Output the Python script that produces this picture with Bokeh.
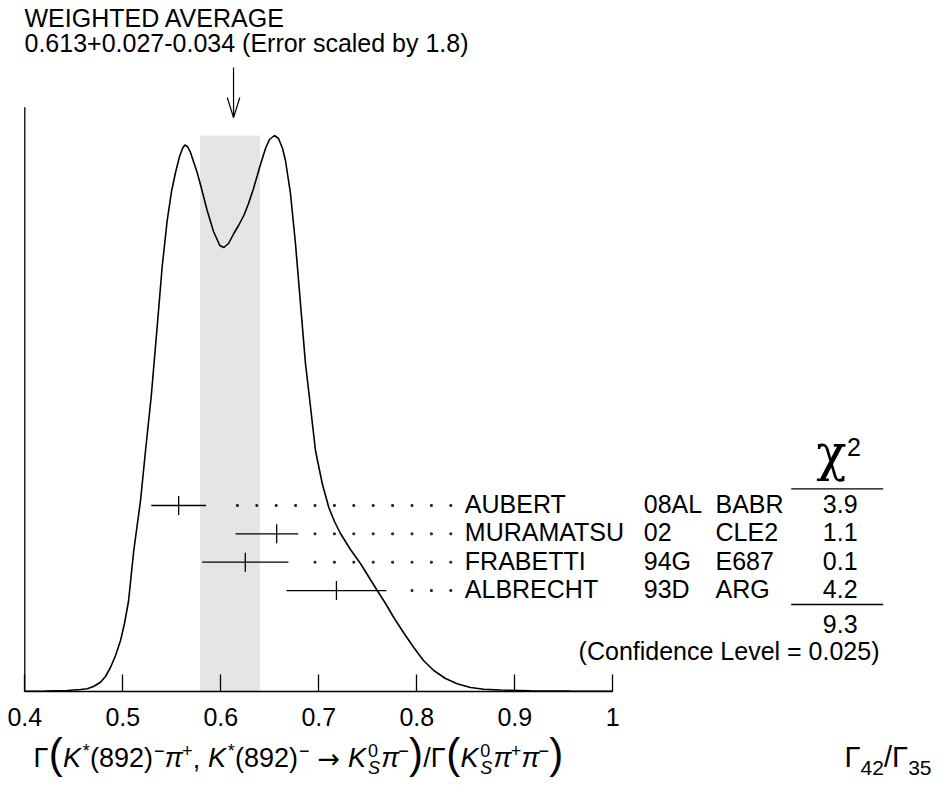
from bokeh.plotting import figure
from bokeh.models import Range1d, LinearAxis, FixedTicker, ColumnDataSource
from bokeh.core.properties import value
from bokeh.embed import file_html
from bokeh.resources import INLINE

# ---------------- data ----------------
names = ["AUBERT", "MURAMATSU", "FRABETTI", "ALBRECHT"]
years = ["08AL", "02", "94G", "93D"]
experiments = ["BABR", "CLE2", "E687", "ARG"]
values = [0.557, 0.657, 0.625, 0.718]
err_lo = [0.028, 0.042, 0.044, 0.051]
err_hi = [0.028, 0.022, 0.044, 0.051]
chi2 = [3.9, 1.1, 0.1, 4.2]
chi2_total = 9.3
confidence_level = 0.025
avg_value = 0.613
avg_err_hi = 0.027
avg_err_lo = 0.034
error_scale = 1.8
tick_values = [0.4, 0.5, 0.6, 0.7, 0.8, 0.9, 1.0]
tick_labels = ["0.4", "0.5", "0.6", "0.7", "0.8", "0.9", "1"]

ideogram_x = [0.4000, 0.4211, 0.4433, 0.4568, 0.4637, 0.4701, 0.4772, 0.4823, 0.4874, 0.4926,
              0.4977, 0.5017, 0.5058, 0.5112, 0.5181, 0.5232, 0.5290, 0.5351, 0.5402, 0.5453,
              0.5497, 0.5538, 0.5579, 0.5609, 0.5633, 0.5660, 0.5691, 0.5721, 0.5759, 0.5803,
              0.5861, 0.5926, 0.5990, 0.6031, 0.6079, 0.6133, 0.6181, 0.6235, 0.6283, 0.6334,
              0.6405, 0.6456, 0.6497, 0.6548, 0.6589, 0.6630, 0.6660, 0.6711, 0.6762, 0.6813,
              0.6864, 0.6908, 0.6966, 0.7035, 0.7102, 0.7160, 0.7221, 0.7323, 0.7425, 0.7507,
              0.7596, 0.7681, 0.7765, 0.7864, 0.7969, 0.8068, 0.8173, 0.8293, 0.8412, 0.8548,
              0.8684, 0.8854, 0.9160, 0.9568, 1.0000]
ideogram_y = [0.3, 0.5, 1.0, 2.0, 2.7, 5.0, 9.3, 15, 24, 36,
              51, 68, 90, 141, 191, 241, 295, 365, 425, 471,
              500, 519, 535, 543, 546.5, 545, 539, 530, 519, 503,
              481, 460, 446, 444, 448, 458, 466, 476, 488, 503,
              527, 543, 552, 556, 553, 543, 531, 498, 448, 388,
              328, 291, 241, 208, 184, 170, 158, 142, 128, 115,
              101, 88, 74, 59, 44, 31, 21, 13, 7.7, 4,
              2.3, 1.5, 0.8, 0.4, 0.2]

# ---------------- layout ----------------
FONT = "Liberation Sans"
W_FIG, H_FIG = 935, 780
PX_PER_UNIT = 980.0
REF_X_04 = 24.3       # pixel of x = 0.4
REF_AXIS_Y = 691.0    # pixel of the x axis line
FS = 25               # main font size (px)
SHIFT_EM = 0.42       # empirical correction of the text baseline


def xr(px):
    return 0.4 + (px - REF_X_04) / PX_PER_UNIT


def yr(py):
    return REF_AXIS_Y - py


def ty(baseline_px, size):
    return yr(baseline_px) + SHIFT_EM * size


def tc(center_px, size):
    # y for a text whose capitals should be centred at center_px
    return ty(center_px + 0.358 * size, size)


p = figure(width=W_FIG, height=H_FIG,
           x_range=Range1d(xr(0), xr(W_FIG)),
           y_range=Range1d(yr(H_FIG), yr(0)),
           x_axis_type=None, y_axis_type=None,
           toolbar_location=None, output_backend="svg",
           min_border_left=0, min_border_right=0, min_border_top=0, min_border_bottom=0)
p.outline_line_color = None
p.background_fill_color = "white"
p.border_fill_color = "white"

# x axis fixed at y = 0
xaxis = LinearAxis(ticker=FixedTicker(ticks=tick_values, minor_ticks=[]),
                   bounds=(tick_values[0], tick_values[-1]), fixed_location=0)
xaxis.major_label_overrides = {t: l for t, l in zip(tick_values, tick_labels)}
xaxis.major_tick_in = 17
xaxis.major_tick_out = 0
xaxis.minor_tick_line_color = None
xaxis.axis_line_color = "black"
xaxis.axis_line_width = 1.3
xaxis.major_tick_line_color = "black"
xaxis.major_tick_line_width = 1.3
xaxis.major_label_text_font = FONT
xaxis.major_label_text_font_size = f"{FS}px"
xaxis.major_label_text_color = "black"
xaxis.major_label_standoff = 16
p.add_layout(xaxis, "below")

# left vertical line
AXIS_TOP = yr(106.7)
p.segment(x0=[tick_values[0]], y0=[0], x1=[tick_values[0]], y1=[AXIS_TOP],
          line_color="black", line_width=1.3)

# shaded band of the weighted average
p.quad(left=[avg_value - avg_err_lo], right=[avg_value + avg_err_hi],
       bottom=[0], top=[max(ideogram_y)], fill_color="#e5e5e5", line_color=None)

# ideogram
p.line(ideogram_x, ideogram_y, line_color="black", line_width=1.6)

# arrow at weighted average
tip_y = yr(117)
p.segment(x0=[avg_value], y0=[yr(67)], x1=[avg_value], y1=[tip_y], line_color="black", line_width=1.2)
head_dx = 6.3 / PX_PER_UNIT
p.segment(x0=[avg_value, avg_value], y0=[tip_y, tip_y],
          x1=[avg_value - head_dx, avg_value + head_dx], y1=[tip_y + 20, tip_y + 20],
          line_color="black", line_width=1.2)

text_kw = dict(text_font=value(FONT), text_font_size=f"{FS}px", text_color="black",
               text_baseline="alphabetic")

# header
p.text(x=[xr(24), xr(24)], y=[tc(19, FS), tc(44, FS)],
       text=["WEIGHTED AVERAGE",
             f"{avg_value}+{avg_err_hi}-{avg_err_lo} (Error scaled by {error_scale})"],
       text_align="left", **text_kw)

# measurements
ROW_TOP_REF = 505.0
ROW_STEP = 28.35
TICK_HALF = 9.5
n = len(names)
row_px = [ROW_TOP_REF + i * ROW_STEP for i in range(n)]
row_y = [yr(r) for r in row_px]
lo = [v - e for v, e in zip(values, err_lo)]
hi = [v + e for v, e in zip(values, err_hi)]

p.segment(x0=lo, y0=row_y, x1=hi, y1=row_y, line_color="black", line_width=1.3)
p.segment(x0=values, y0=[y - TICK_HALF for y in row_y], x1=values,
          y1=[y + TICK_HALF for y in row_y], line_color="black", line_width=1.3)

# dotted leaders
DOT_LAST = xr(450.3)
DOT_STEP = 19.4 / PX_PER_UNIT
DOT_GAP = 0.015
dots_x, dots_y = [], []
for h, y in zip(hi, row_y):
    k = 0
    while DOT_LAST - k * DOT_STEP > h + DOT_GAP:
        dots_x.append(DOT_LAST - k * DOT_STEP)
        dots_y.append(y)
        k += 1
p.scatter(dots_x, dots_y, marker="square", size=1.8, color="#222222")

text_y = [tc(r, FS) for r in row_px]
p.text(x=[xr(464.3)] * n, y=text_y, text=names, text_align="left", **text_kw)
p.text(x=[xr(643.3)] * n, y=text_y, text=years, text_align="left", **text_kw)
p.text(x=[xr(715)] * n, y=text_y, text=experiments, text_align="left", **text_kw)
p.text(x=[xr(839.7)] * n, y=text_y, text=[f"{c:.1f}" for c in chi2], text_align="center", **text_kw)

# chi2 table decorations
p.segment(x0=[xr(790.7)] * 2, y0=[yr(488.3), yr(604)], x1=[xr(882.7)] * 2,
          y1=[yr(488.3), yr(604)], line_color="black", line_width=1.3)
CHI_FS = 50
p.text(x=[xr(831)], y=[ty(473, CHI_FS)], text=["χ"], text_font=value("DejaVu Serif"),
       text_font_size=f"{CHI_FS}px", text_color="black", text_align="center",
       text_baseline="alphabetic")
p.text(x=[xr(846.5)], y=[ty(457, FS)], text=["2"], text_align="left", **text_kw)
p.text(x=[xr(839.7)], y=[tc(625, FS)], text=[f"{chi2_total:.1f}"], text_align="center", **text_kw)
p.text(x=[xr(879)], y=[tc(652, FS)], text=[f"(Confidence Level = {confidence_level})"],
       text_align="right", **text_kw)

# ---------------- bottom formula ----------------
EM = {"Γ": 0.556, "(": 0.333, ")": 0.333, "K": 0.667, "*": 0.389, "−": 0.584, "+": 0.584,
      "π": 0.57, ",": 0.278, " ": 0.278, "→": 0.838, "S": 0.667, "/": 0.278}


def em_width(s):
    return sum(EM.get(c, 0.556) for c in s)


# size, style, baseline shift, font
STY = {"n": (27, "normal", 0, FONT), "i": (27, "italic", 0, FONT),
       "sup": (18, "normal", 11, FONT), "sub": (18, "italic", -6, FONT),
       "big": (42, "normal", -2, FONT), "arrow": (27, "normal", 0, "DejaVu Sans"),
       "rn": (29, "normal", 0, FONT), "rsub": (21, "normal", -7, FONT)}


def layout(pieces):
    out, cur = [], 0.0
    for txt, kind in pieces:
        if kind == "supsub":
            s0, s1 = STY["sup"], STY["sub"]
            out.append((cur, txt[0], s0))
            out.append((cur, txt[1], s1))
            cur += max(em_width(txt[0]) * s0[0], em_width(txt[1]) * s1[0]) + 1
        else:
            s = STY[kind]
            out.append((cur, txt, s))
            cur += em_width(txt) * s[0] + (1.5 if kind == "i" else 0)
    return out, cur


formula = [("Γ", "n"), ("(", "big"), ("K", "i"), ("*", "sup"), ("(892)", "n"), ("−", "sup"),
           ("π", "i"), ("+", "sup"), (",", "n"), (" ", "n"),
           ("K", "i"), ("*", "sup"), ("(892)", "n"), ("−", "sup"), (" ", "n"), ("→", "arrow"),
           (" ", "n"), ("K", "i"), (("0", "S"), "supsub"), ("π", "i"), ("−", "sup"), (")", "big"),
           ("/Γ", "n"), ("(", "big"), ("K", "i"), (("0", "S"), "supsub"), ("π", "i"),
           ("+", "sup"), ("π", "i"), ("−", "sup"), (")", "big")]
ratio = [("Γ", "rn"), ("42", "rsub"), ("/", "rn"), ("Γ", "rn"), ("35", "rsub")]

FORMULA_BASE = 769.0
fx, fy, ft, fs, fst, ff = [], [], [], [], [], []


def place(pieces, start_ref=0.0, end_ref=None, right_ref=None):
    items, total = layout(pieces)
    f = 1.0
    if end_ref is not None:
        f = (end_ref - start_ref) / total
    if right_ref is not None:
        start_ref = right_ref - total
    for off, txt, (size, style, dy, font) in items:
        fx.append(xr(start_ref + off * f))
        fy.append(ty(FORMULA_BASE - dy, size))
        ft.append(txt)
        fs.append(f"{size}px")
        fst.append(style)
        ff.append(font)


place(formula, 33, end_ref=563)
place(ratio, right_ref=931)
src = ColumnDataSource(dict(x=fx, y=fy, text=ft, size=fs, style=fst, font=ff))
p.text(x="x", y="y", text="text", source=src, text_font="font",
       text_font_size="size", text_font_style="style", text_color="black",
       text_align="left", text_baseline="alphabetic")

open("out.html", "w").write(file_html(p, INLINE))
